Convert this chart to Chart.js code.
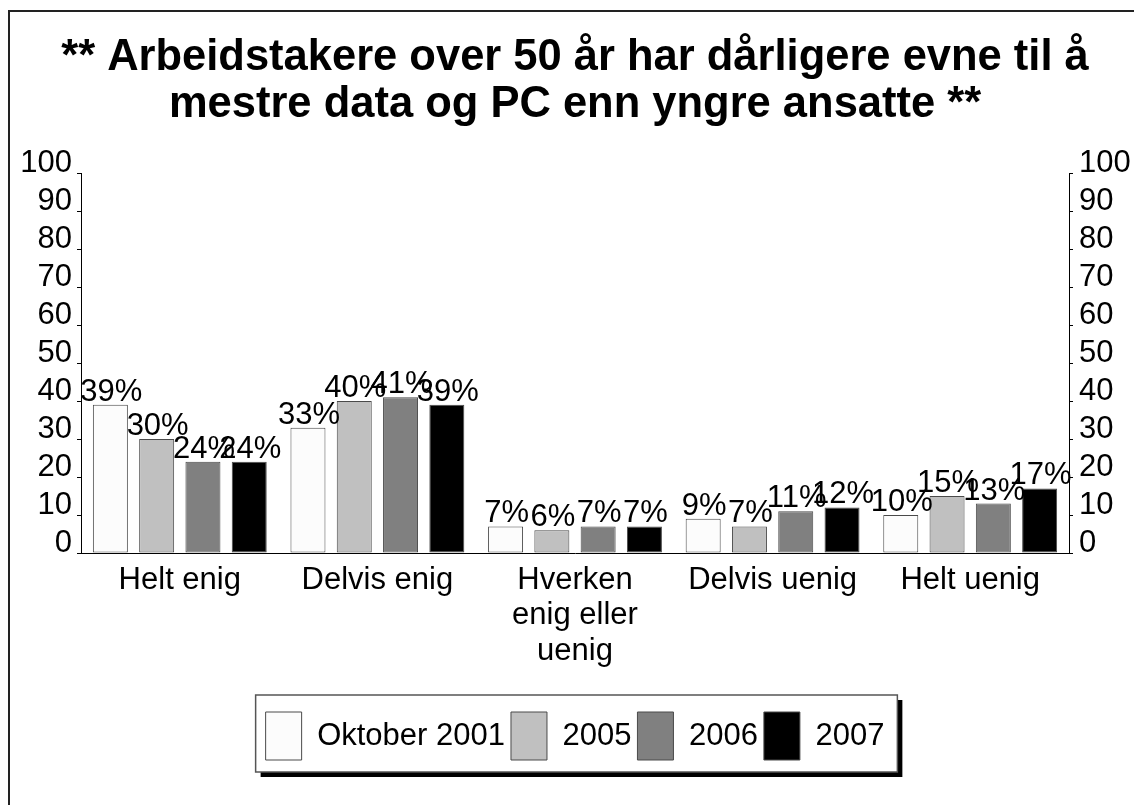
<!DOCTYPE html>
<html lang="no">
<head>
<meta charset="utf-8">
<title>Arbeidstakere over 50 år</title>
<script src="https://cdn.jsdelivr.net/npm/chart.js@4.4.1/dist/chart.umd.min.js"></script>
<style>
  html, body { margin: 0; padding: 0; background: #ffffff; }
  canvas { display: block; }
</style>
</head>
<body>
<canvas id="chart" width="1134" height="805"></canvas>
<script>
// Survey answers, share of respondents (%)
const categories = ['Helt enig', 'Delvis enig', ['Hverken', 'enig eller', 'uenig'], 'Delvis uenig', 'Helt uenig'];
const seriesNames = ['Oktober 2001', '2005', '2006', '2007'];
const oktober2001 = [39, 33, 7, 9, 10];
const year2005 = [30, 40, 6, 7, 15];
const year2006 = [24, 41, 7, 11, 13];
const year2007 = [24, 39, 7, 12, 17];
const yTicks = [0, 10, 20, 30, 40, 50, 60, 70, 80, 90, 100];
const titleLines = [
  '** Arbeidstakere over 50 år har dårligere evne til å',
  'mestre data og PC enn yngre ansatte **'
];

const seriesValues = [oktober2001, year2005, year2006, year2007];
const fills = ['#fcfcfc', '#c0c0c0', '#808080', '#000000'];

Chart.defaults.font.family = "'Liberation Sans', Arial, Helvetica, sans-serif";
Chart.defaults.color = '#000000';

// White page with a frame and the legend's shadowed box
const pageFrame = {
  id: 'pageFrame',
  beforeDraw(chart) {
    const ctx = chart.ctx;
    ctx.save();
    ctx.fillStyle = '#ffffff';
    ctx.fillRect(0, 0, chart.width, chart.height);
    ctx.strokeStyle = '#222222';
    ctx.lineWidth = 2;
    ctx.strokeRect(9, 11, chart.width + 40, chart.height + 40);

    const lg = chart.legend;
    if (lg && lg.legendHitBoxes && lg.legendHitBoxes.length) {
      const hb = lg.legendHitBoxes;
      const first = hb[0], last = hb[hb.length - 1];
      const x0 = first.left - 10;
      const x1 = last.left + last.width + 13;
      const y0 = first.top - 17;
      const y1 = first.top + first.height + 12;
      ctx.fillStyle = '#000000';
      ctx.fillRect(x0 + 5, y0 + 5, x1 - x0, y1 - y0);
      ctx.fillStyle = '#ffffff';
      ctx.fillRect(x0, y0, x1 - x0, y1 - y0);
      ctx.strokeStyle = '#555555';
      ctx.lineWidth = 1.5;
      ctx.strokeRect(x0, y0, x1 - x0, y1 - y0);
    }
    ctx.restore();
  }
};

// Percentage labels above each bar
const valueLabels = {
  id: 'valueLabels',
  afterDatasetsDraw(chart) {
    const ctx = chart.ctx;
    ctx.save();
    ctx.font = "31px 'Liberation Sans', Arial, sans-serif";
    ctx.fillStyle = '#000000';
    ctx.textAlign = 'center';
    ctx.textBaseline = 'alphabetic';
    chart.data.datasets.forEach((ds, di) => {
      const meta = chart.getDatasetMeta(di);
      meta.data.forEach((bar, i) => {
        ctx.fillText(ds.data[i] + '%', bar.x + 1, bar.y - 4);
      });
    });
    ctx.restore();
  }
};

const yAxisBase = (position) => ({
  type: 'linear',
  position: position,
  min: yTicks[0],
  max: yTicks[yTicks.length - 1],
  afterBuildTicks: (scale) => { scale.ticks = yTicks.map(v => ({ value: v })); },
  afterFit: (scale) => { scale.width = 65; },
  ticks: {
    font: { size: 31 },
    color: '#000000',
    padding: position === 'left' ? 5 : 6,
    labelOffset: -10,
    autoSkip: false
  },
  grid: {
    drawOnChartArea: false,
    drawTicks: true,
    tickLength: 4,
    color: '#000000',
    lineWidth: 1
  },
  border: { display: true, color: '#000000', width: 1 }
});

new Chart(document.getElementById('chart'), {
  type: 'bar',
  data: {
    labels: categories,
    datasets: seriesValues.map((vals, i) => ({
      label: seriesNames[i],
      data: vals,
      backgroundColor: fills[i],
      borderColor: '#4a4a4a',
      borderWidth: 1,
      borderSkipped: false,
      barPercentage: 0.756,
      categoryPercentage: 0.937
    }))
  },
  options: {
    responsive: false,
    animation: false,
    devicePixelRatio: 1,
    layout: { padding: { left: 16, right: 0, top: 0, bottom: 35 } },
    scales: {
      x: {
        afterFit: (scale) => { scale.height = 153; },
        ticks: {
          font: { size: 31, lineHeight: 1.16 },
          color: '#000000',
          padding: 9,
          maxRotation: 0,
          autoSkip: false
        },
        grid: { display: true, drawOnChartArea: false, drawTicks: false },
        border: { display: true, color: '#000000', width: 1 }
      },
      y: yAxisBase('left'),
      y2: yAxisBase('right')
    },
    plugins: {
      title: {
        display: true,
        text: titleLines,
        color: '#000000',
        font: { size: 43.5, weight: 'bold', lineHeight: 1.07 },
        padding: { top: 35, bottom: 45 }
      },
      legend: {
        position: 'bottom',
        labels: {
          boxWidth: 36,
          boxHeight: 48,
          padding: 6,
          color: '#000000',
          font: { size: 31 }
        }
      },
      tooltip: { enabled: false }
    }
  },
  plugins: [pageFrame, valueLabels]
});
</script>
</body>
</html>
